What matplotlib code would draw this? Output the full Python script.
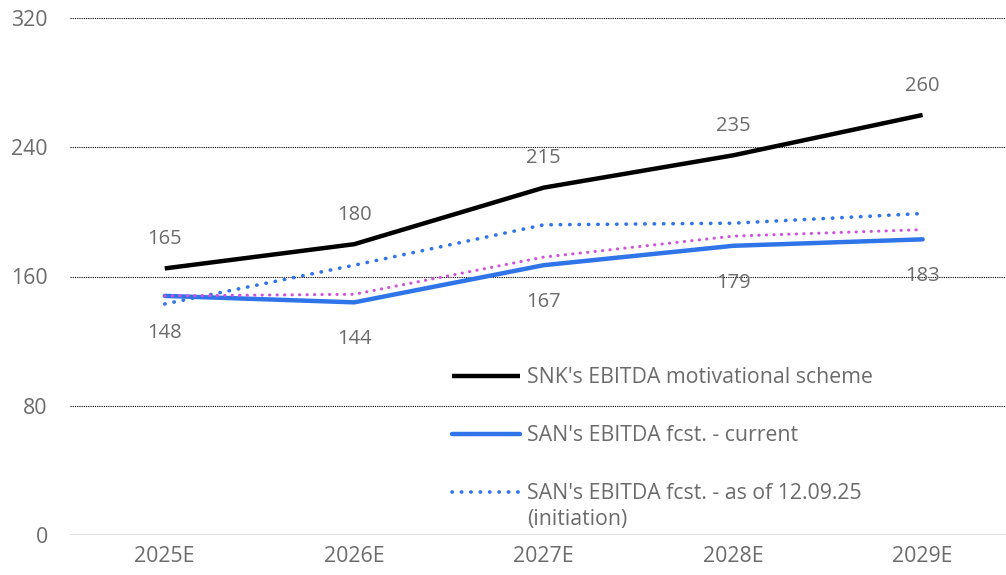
import matplotlib.pyplot as plt
import numpy as np

years = ["2025E", "2026E", "2027E", "2028E", "2029E"]
snk_scheme = [165, 180, 215, 235, 260]
san_current = [148, 144, 167, 179, 183]
san_initiation = [143, 167, 192, 193, 199]
san_other = [148, 149, 172, 185, 189]

plt.rcParams['font.family'] = ['Open Sans', 'DejaVu Sans']
grey = '#6b6b6b'
blue = '#2f74e9'
magenta = '#cf52dc'

fig = plt.figure(figsize=(10.06, 5.75), dpi=100)
ax = fig.add_axes([70 / 1006, 40 / 575, 936 / 1006, 517 / 575])

x = np.arange(len(years))

ax.plot(x, snk_scheme, color='black', lw=3.2, solid_capstyle='butt',
        label="SNK's EBITDA motivational scheme", zorder=3)
ax.plot(x, san_current, color=blue, lw=3.2, solid_capstyle='round',
        label="SAN's EBITDA fcst. - current", zorder=3)
ax.plot(x, san_initiation, color=blue, lw=2.6, linestyle=(0, (0.1, 2.5)),
        dash_capstyle='round', label="SAN's EBITDA fcst. - as of 12.09.25", zorder=4)
ax.plot(x, san_other, color=magenta, lw=2.2, linestyle=(0, (0.1, 2.35)),
        dash_capstyle='round', zorder=5)

for xi, v in zip(x, snk_scheme):
    ax.annotate(str(v), (xi, v), xytext=(0, 21), textcoords='offset points',
                ha='center', va='center', fontsize=14.5, color=grey)
for xi, v in zip(x, san_current):
    ax.annotate(str(v), (xi, v), xytext=(0, -26.5), textcoords='offset points',
                ha='center', va='center', fontsize=14.5, color=grey)

ax.set_xlim(-0.5, 4.44)
ax.set_ylim(0, 320)
ax.set_yticks([0, 80, 160, 240, 320])
ax.set_xticks(x)
ax.set_xticklabels(years)
ax.tick_params(axis='both', length=0, labelsize=15.3, labelcolor=grey)
ax.tick_params(axis='y', pad=16)
ax.tick_params(axis='x', pad=8)

for s in ax.spines.values():
    s.set_visible(False)
for yv in [80, 160, 240, 320]:
    ax.axhline(yv, color='black', lw=0.8, linestyle=(0, (1, 1)), zorder=1)
ax.axhline(0, color='#dddddd', lw=2, zorder=1)

leg = ax.legend(loc='upper left', bbox_to_anchor=(0.408, 0.324), frameon=False,
                borderpad=0, borderaxespad=0, handlelength=3.2, handletextpad=0.33,
                labelspacing=1.73, fontsize=15.3, labelcolor=grey)
fig.canvas.draw()
ax.annotate("(initiation)", xy=(0, 0), xycoords=leg.get_texts()[2],
            xytext=(0, -3.5), textcoords='offset points', ha='left', va='top',
            fontsize=15.3, color=grey, zorder=6)

fig.savefig('out.png', dpi=100)
